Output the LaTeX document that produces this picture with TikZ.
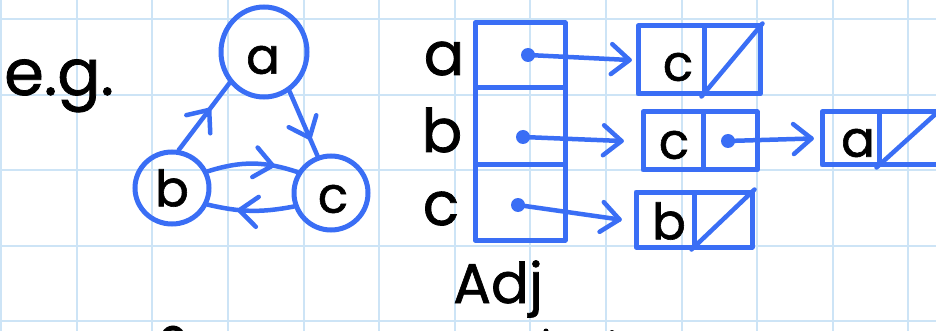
\documentclass[tikz,border=0pt]{standalone}
\usepackage{fontspec}
\setmainfont{Poppins}[FakeBold=1.2]
\usetikzlibrary{shapes.geometric,decorations.markings}
\definecolor{ink}{RGB}{58,110,245}
\definecolor{gridc}{RGB}{205,228,246}
\tikzset{
  vert/.style={draw=ink, line width=5pt, ellipse, inner sep=0pt},
  edge/.style={draw=ink, line width=4.5pt, line cap=round, line join=round},
  chev/.style={postaction={decorate}, decoration={markings,
      mark=at position #1 with {\draw[ink, line width=4.5pt, line cap=round, line join=round] (-18pt,15pt) -- (0pt,0pt) -- (-18pt,-15pt);}}},
  cell/.style={draw=ink, line width=5pt, rectangle, inner sep=0pt, line join=round},
  txt/.style={font=\fontsize{50}{50}\selectfont, inner sep=0pt},
  ptr/.style={draw=ink, line width=4.5pt, line cap=round, line join=round, chev=1},
  dotp/.style={circle, fill=ink, inner sep=0pt, minimum size=14pt},
  lbl/.style={font=\fontsize{60}{60}\selectfont, inner sep=0pt},
}
\begin{document}
\begin{tikzpicture}[x=1pt,y=-1pt]
\useasboundingbox (0,0) rectangle (936,331);
\fill[white] (0,0) rectangle (936,331);
% grid
\foreach \k in {0,...,12} \draw[gridc, line width=2pt] ({1.1+75.6*\k},0) -- ({1.1+75.6*\k},331);
\foreach \k in {0,...,4} \draw[gridc, line width=2pt] (0,{19+75.6*\k}) -- (936,{19+75.6*\k});

% e.g.
\node[lbl, anchor=base west, font=\fontsize{64}{64}\selectfont] (eg) at (4,95) {e.g.};

% graph
\node[vert, minimum width=86pt, minimum height=90pt] (a) at (264,52) {};
\node[vert, minimum width=74pt, minimum height=72pt] (b) at (172,188) {};
\node[vert, minimum width=74pt, minimum height=74pt] (c) at (331,193) {};
\node[txt] (ta) at (263,60) {a};
\node[txt] (tb) at (172,188) {b};
\node[txt] (tc) at (333,199) {c};

\draw[edge, chev=0.6] (b.80) -- (a.222);
\draw[edge, chev=0.72] (a.303) -- (c.110);
\draw[edge, chev=0.72] (b.25) to[bend left=18] (c.148);
\draw[edge, chev=0.63] (c.200) to[bend left=12] (b.335);

% Adj array
\node[cell, minimum width=90pt, minimum height=65pt] (adja) at (520,55.5) {};
\node[cell, minimum width=90pt, minimum height=77pt] (adjb) at (520,126.5) {};
\node[cell, minimum width=90pt, minimum height=75pt] (adjc) at (520,202.5) {};
\node[dotp] (da) at (528,55) {};
\node[dotp] (db) at (523,137) {};
\node[dotp] (dc) at (518,205) {};
\node[lbl, anchor=base] (la) at (444,75) {a};
\node[lbl, anchor=base] (lb) at (442,152) {b};
\node[lbl, anchor=base] (lc) at (441,225) {c};
\node[lbl, anchor=base, font=\fontsize{56}{56}\selectfont] (adj) at (498,303) {Adj};

% list for a
\node[cell, minimum width=66pt, minimum height=68pt] (l1a) at (671,60) {};
\node[cell, minimum width=56pt, minimum height=68pt] (l1b) at (732,60) {};
\node[txt] (t1) at (678,67) {c};
\draw[edge] (l1b.south west) -- (l1b.north east);
% list for b
\node[cell, minimum width=60pt, minimum height=58pt] (l2a) at (673,141) {};
\node[cell, minimum width=54pt, minimum height=58pt] (l2b) at (730,141) {};
\node[txt] (t2) at (674,145) {c};
\node[dotp] (d2) at (728,141) {};
\node[cell, minimum width=57pt, minimum height=53pt] (l3a) at (850.5,138.5) {};
\node[cell, minimum width=59pt, minimum height=53pt] (l3b) at (908.5,138.5) {};
\node[txt] (t3) at (858,143) {a};
\draw[edge] (l3b.south west) -- (l3b.north east);
% list for c
\node[cell, minimum width=58pt, minimum height=55pt] (l4a) at (665,219.5) {};
\node[cell, minimum width=58pt, minimum height=55pt] (l4b) at (723,219.5) {};
\node[txt] (t4) at (669,221) {b};
\draw[edge] (l4b.south west) -- (l4b.north east);

% pointers
\draw[ptr] (da.center) -- ([xshift=-6pt]l1a.west);
\draw[ptr] (db.center) -- ([xshift=-19pt]l2a.west);
\draw[ptr] (dc.center) -- ([xshift=-14pt]l4a.west);
\draw[ptr] (d2.center) -- ([xshift=-8pt]l3a.west);

% fragments of the next line
\draw[line width=5pt, line cap=round] (164,334) .. controls (168,326) and (178,326) .. (182,334);
\fill (612,333) circle (3pt);
\fill (546,331) circle (2.5pt);
\end{tikzpicture}
\end{document}
